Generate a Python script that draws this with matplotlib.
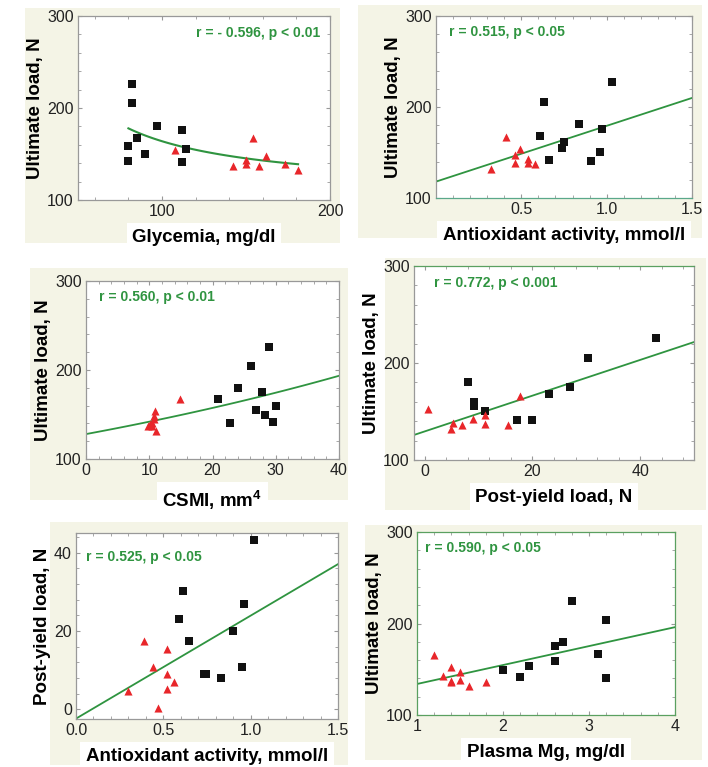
import numpy as np
import matplotlib
matplotlib.use('Agg')
from matplotlib import pyplot as plt
from matplotlib.ticker import AutoMinorLocator
from matplotlib.patches import Rectangle

plt.rcParams['font.family'] = ['Liberation Sans', 'DejaVu Sans']

# panel 1: glycemia vs ultimate load
glyc_ctrl = [82, 82, 97, 112, 85, 80, 114, 90, 80, 112]
ul_ctrl_g = [226, 205, 180, 176, 167, 159, 155, 150, 142, 141]
glyc_dm = [107.5, 142, 150, 150, 154, 158, 162, 173, 181]
ul_dm_g = [154, 137.5, 143, 139, 167, 137.5, 148, 139, 133]
glyc_fit = (108, 5590)   # y = a + b / x
glyc_fit_range = (80, 181)

# panel 2: antioxidant activity vs ultimate load
aox_ctrl = [1.03, 0.63, 0.84, 0.97, 0.61, 0.75, 0.74, 0.96, 0.66, 0.91]
ul_ctrl_a = [227, 205, 181, 176, 168, 161, 155, 151, 142, 141]
aox_dm = [0.32, 0.41, 0.46, 0.46, 0.49, 0.54, 0.54, 0.58]
ul_dm_a = [132, 167, 147.5, 138, 154, 143, 138.4, 137]
aox_fit = (118, 61.3)   # intercept, slope

# panel 3: CSMI vs ultimate load
csmi_ctrl = [28.9, 26.1, 24.0, 27.8, 20.9, 30.0, 26.9, 28.3, 22.7, 29.5]
ul_ctrl_c = [225.5, 204.6, 179.6, 175.5, 167.3, 159.8, 154.6, 149.4, 141, 141.4]
csmi_dm = [14.8, 10.9, 10.7, 10.7, 10.1, 9.8, 10.4, 11.1, 10.5]
ul_dm_c = [167, 153.8, 148.6, 144.9, 139, 137.4, 136.8, 131.8, 141]
csmi_fit = (128, 0.01033)   # y = a * exp(b x)

# panel 4: post-yield load vs ultimate load
py_ctrl = [43, 30.3, 26.9, 23.1, 8.0, 9.1, 9.1, 11.1, 17.2, 19.9]
ul_ctrl_p = [225.4, 205, 175.6, 167.7, 180.4, 159.8, 155.3, 150.5, 141.2, 140.9]
py_dm = [0.6, 17.6, 4.8, 5.3, 7.0, 9.0, 11.1, 11.1, 15.4]
ul_dm_p = [153, 166, 131.6, 138, 136, 142.5, 146, 137.6, 136.3]
py_fit = (129.5, 1.842)

# panel 5: antioxidant activity vs post-yield load
aox_ctrl2 = [1.02, 0.615, 0.96, 0.59, 0.90, 0.645, 0.95, 0.73, 0.745, 0.83]
py_ctrl2 = [43.1, 30.3, 26.9, 23.1, 19.9, 17.3, 10.9, 8.9, 8.9, 8.0]
aox_dm2 = [0.30, 0.39, 0.44, 0.47, 0.52, 0.52, 0.52, 0.56]
py_dm2 = [4.6, 17.5, 10.8, 0.4, 15.3, 8.9, 5.1, 6.9]
aox_py_fit = (-2.4, 26.3)

# panel 6: plasma Mg vs ultimate load
mg_ctrl = [2.8, 3.2, 2.7, 2.6, 3.1, 2.6, 2.3, 2.0, 2.2, 3.2]
ul_ctrl_m = [224.5, 203.6, 180, 175.2, 166.8, 159.1, 154, 149.6, 141.2, 140.1]
mg_dm = [1.2, 1.4, 1.3, 1.5, 1.4, 1.5, 1.6, 1.8, 1.4]
ul_dm_m = [165.7, 152.2, 142.3, 146.7, 136.5, 138.3, 131.4, 135.8, 137.6]
mg_fit = (113.2, 20.7)

W, H = 708, 767
CREAM = '#f4f4e6'
GREEN = '#2f9440'
RED = '#e8262a'

fig = plt.figure(figsize=(W / 100, H / 100), dpi=100)
fig.patch.set_facecolor('white')


def px_axes(l, t, r, b):
    return fig.add_axes([l / W, 1 - b / H, (r - l) / W, (b - t) / H])


def cream(l, t, r, b):
    fig.patches.append(Rectangle((l / W, 1 - b / H), (r - l) / W, (b - t) / H,
                                 transform=fig.transFigure, facecolor=CREAM,
                                 edgecolor='none', zorder=-10))


def style(ax, xlabel, ylabel, xlim, ylim, xticks, yticks, xticklabels=None):
    ax.set_xlim(*xlim)
    ax.set_ylim(*ylim)
    ax.set_xticks(xticks)
    if xticklabels is not None:
        ax.set_xticklabels(xticklabels)
    ax.set_yticks(yticks)
    ax.xaxis.set_minor_locator(AutoMinorLocator(5))
    ax.yaxis.set_minor_locator(AutoMinorLocator(5))
    ax.tick_params(which='both', direction='in', top=True, right=True,
                   labelsize=11.5, colors='#999999', labelcolor='#222222', pad=3)
    ax.tick_params(which='major', length=3)
    ax.tick_params(which='minor', length=2)
    for s in ax.spines.values():
        s.set_color('#999999')
        s.set_linewidth(0.9)
    ax.set_xlabel(xlabel, fontsize=13.5, fontweight='bold', labelpad=7,
                  bbox=dict(facecolor='white', edgecolor='none', pad=4))
    ax.set_ylabel(ylabel, fontsize=13.5, fontweight='bold', labelpad=2)
    ax.set_facecolor('white')


def points(ax, xc, yc, xd, yd):
    ax.scatter(xc, yc, marker='s', s=38, color='#111111', zorder=3, linewidths=0)
    ax.scatter(xd, yd, marker='^', s=34, color=RED, zorder=3, linewidths=0)


def note(ax, txt, x, y, ha='left'):
    ax.text(x, y, txt, transform=ax.transAxes, color=GREEN, fontsize=10,
            fontweight='bold', ha=ha, va='center')


cream(25, 8, 340, 243)
cream(358, 5, 702, 238)
cream(30, 268, 348, 500)
cream(385, 258, 706, 510)
cream(50, 522, 348, 765)
cream(365, 525, 702, 760)

# panel 1
ax = px_axes(78, 16, 330, 200)
points(ax, glyc_ctrl, ul_ctrl_g, glyc_dm, ul_dm_g)
gx = np.linspace(*glyc_fit_range, 100)
ax.plot(gx, glyc_fit[0] + glyc_fit[1] / gx, color=GREEN, lw=1.5, zorder=2)
style(ax, 'Glycemia, mg/dl', 'Ultimate load, N', (50, 200), (100, 300),
      [100, 200], [100, 200, 300])
note(ax, 'r = - 0.596, p < 0.01', 0.96, 0.91, ha='right')

# panel 2
ax = px_axes(436, 16, 692, 198)
points(ax, aox_ctrl, ul_ctrl_a, aox_dm, ul_dm_a)
ax.axline((0, aox_fit[0]), slope=aox_fit[1], color=GREEN, lw=1.3, zorder=2)
style(ax, 'Antioxidant activity, mmol/l', 'Ultimate load, N', (0, 1.5), (100, 300),
      [0.5, 1.0, 1.5], [100, 200, 300], ['0.5', '1.0', '1.5'])
ax.spines['bottom'].set_color('#5aa88a')
note(ax, 'r = 0.515, p < 0.05', 0.05, 0.91)

# panel 3
ax = px_axes(86, 281, 339, 459)
points(ax, csmi_ctrl, ul_ctrl_c, csmi_dm, ul_dm_c)
cx = np.linspace(0, 40, 100)
ax.plot(cx, csmi_fit[0] * np.exp(csmi_fit[1] * cx), color=GREEN, lw=1.3, zorder=2)
style(ax, 'CSMI, mm$^\\mathregular{4}$', 'Ultimate load, N', (0, 40), (100, 300),
      [0, 10, 20, 30, 40], [100, 200, 300])
note(ax, 'r = 0.560, p < 0.01', 0.05, 0.91)

# panel 4
ax = px_axes(414, 266, 694, 460)
points(ax, py_ctrl, ul_ctrl_p, py_dm, ul_dm_p)
ax.axline((0, py_fit[0]), slope=py_fit[1], color=GREEN, lw=1.3, zorder=2)
style(ax, 'Post-yield load, N', 'Ultimate load, N', (-2, 50), (100, 300),
      [0, 20, 40], [100, 200, 300])
ax.spines['top'].set_color('#5aa060')
note(ax, 'r = 0.772, p < 0.001', 0.07, 0.91)

# panel 5
ax = px_axes(76, 533, 338, 719)
points(ax, aox_ctrl2, py_ctrl2, aox_dm2, py_dm2)
ax.axline((0, aox_py_fit[0]), slope=aox_py_fit[1], color=GREEN, lw=1.3, zorder=2)
style(ax, 'Antioxidant activity, mmol/l', 'Post-yield load, N', (0, 1.5), (-2.5, 45),
      [0.0, 0.5, 1.0, 1.5], [0, 20, 40], ['0.0', '0.5', '1.0', '1.5'])
note(ax, 'r = 0.525, p < 0.05', 0.04, 0.87)

# panel 6
ax = px_axes(417, 532, 675, 715)
points(ax, mg_ctrl, ul_ctrl_m, mg_dm, ul_dm_m)
ax.axline((1, mg_fit[0] + mg_fit[1]), slope=mg_fit[1], color=GREEN, lw=1.3, zorder=2)
style(ax, 'Plasma Mg, mg/dl', 'Ultimate load, N', (1, 4), (100, 300),
      [1, 2, 3, 4], [100, 200, 300])
for s in ax.spines.values():
    s.set_color('#5aa060')
note(ax, 'r = 0.590, p < 0.05', 0.03, 0.91)

fig.savefig('out.png', dpi=100)
